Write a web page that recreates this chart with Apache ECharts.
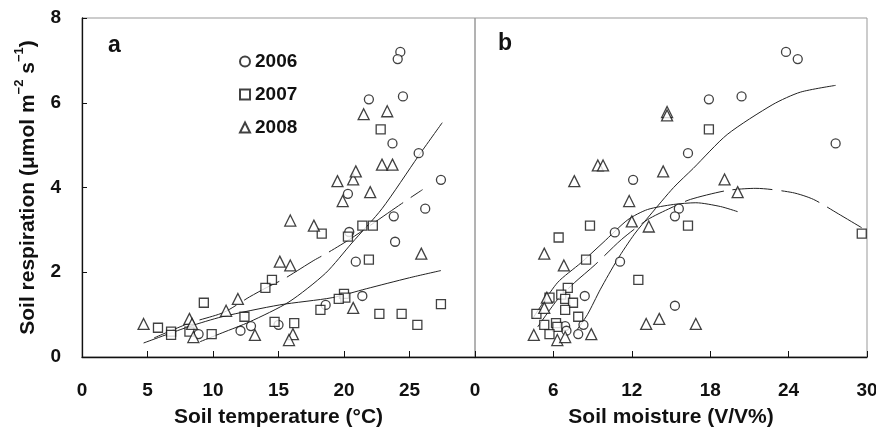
<!DOCTYPE html>
<html>
<head>
<meta charset="utf-8">
<script src="https://cdn.jsdelivr.net/npm/echarts@6/dist/echarts.min.js"></script>
<style>
  html, body { margin: 0; padding: 0; background: #fff; }
  #main { width: 876px; height: 429px; }
</style>
</head>
<body>
<div id="main"></div>
<script>
// soil temperature panel (a)
var temp2006 = [[24.3,7.2],[24.1,7.03],[24.5,6.15],[21.9,6.08],[23.7,5.04],[25.7,4.81],[27.4,4.18],[20.3,3.85],
    [26.2,3.5],[23.8,3.32],[20.4,2.95],[23.9,2.72],[20.9,2.25],[21.4,1.44],[18.6,1.23],[15.0,0.76],[12.9,0.73],
    [12.1,0.62],[8.9,0.54]];
var temp2007 = [[22.8,5.37],[21.4,3.1],[22.2,3.1],[18.3,2.91],[20.3,2.84],[21.9,2.3],[14.5,1.82],[14.0,1.63],
    [9.3,1.28],[20.0,1.49],[20.1,1.4],[19.6,1.37],[18.2,1.11],[27.4,1.25],[22.7,1.02],[24.4,1.02],[25.6,0.76],
    [16.2,0.8],[14.7,0.83],[12.4,0.95],[9.9,0.54],[5.8,0.69],[6.8,0.6],[6.8,0.52],[8.2,0.6]];
var temp2008 = [[21.5,5.73],[23.3,5.8],[19.5,4.15],[20.7,4.19],[20.9,4.38],[22.0,3.89],[19.9,3.68],[22.9,4.54],
    [23.7,4.54],[15.9,3.22],[17.7,3.1],[15.1,2.25],[15.9,2.16],[25.9,2.44],[11.9,1.37],[11.0,1.09],[20.7,1.16],
    [4.7,0.78],[8.2,0.9],[8.4,0.78],[8.5,0.47],[13.2,0.52],[16.1,0.54],[15.8,0.4]];
// fitted curves
var tempCurveSteep = [[9.0,0.36],[10.7,0.57],[12.8,0.83],[15.8,1.3],[18.6,1.98],[20.6,2.69],[22.9,3.5],[25.7,4.75],[27.5,5.53]];
var tempCurveFlat = [[4.7,0.33],[8.2,0.72],[10.7,0.95],[15.1,1.23],[19.1,1.4],[21.7,1.61],[25.0,1.87],[27.4,2.04]];
var tempCurveDash = [[5.5,0.45],[8.2,0.8],[10.8,1.05],[12.8,1.42],[14.1,1.64],[15.4,1.84],[17.7,2.28],
    [18.7,2.45],[20.6,2.81],[24.4,3.62],[26.0,3.95]];

// soil moisture panel (b)
var moist2006 = [[23.8,7.2],[24.7,7.03],[17.9,6.08],[20.4,6.15],[27.6,5.04],[16.3,4.81],[12.1,4.18],[15.6,3.5],
    [15.3,3.32],[10.7,2.94],[11.1,2.25],[15.3,1.21],[8.4,1.44],[8.3,0.76],[7.9,0.54],[6.9,0.73],[7.0,0.62]];
var moist2007 = [[17.9,5.37],[8.8,3.1],[16.3,3.1],[6.4,2.82],[8.5,2.3],[12.5,1.82],[29.6,2.91],[7.1,1.63],
    [5.7,1.4],[6.6,1.47],[6.9,1.37],[7.5,1.28],[4.7,1.02],[6.9,1.11],[7.9,0.95],[5.3,0.76],[6.2,0.8],[6.3,0.71],[5.7,0.54]];
var moist2008 = [[14.7,5.78],[14.7,5.7],[9.4,4.52],[9.8,4.52],[7.6,4.15],[14.4,4.38],[19.1,4.19],[20.1,3.89],
    [11.8,3.68],[12.0,3.2],[13.3,3.08],[5.3,2.44],[6.8,2.16],[5.5,1.4],[5.3,1.16],[13.1,0.78],[14.1,0.9],
    [16.9,0.78],[4.5,0.52],[8.9,0.54],[6.3,0.4],[6.9,0.47]];
var moistCurveRise = [[7.6,0.55],[8.6,1.0],[9.6,1.6],[10.9,2.3],[12.2,2.9],[13.4,3.35],[15.2,4.0],[16.7,4.45],
    [19.3,5.25],[22.8,5.96],[24.9,6.25],[27.6,6.41]];
var moistCurvePeak = [[4.4,0.9],[6.3,1.75],[8.1,2.22],[9.8,2.7],[11.7,3.24],[13.2,3.48],[15.2,3.6],[16.9,3.64],
    [18.8,3.55],[20.1,3.43]];
var moistCurveDash = [[4.8,0.71],[6.3,1.35],[7.6,1.75],[9.2,2.18],[11.2,2.77],[13.2,3.24],[15.0,3.52],
    [16.5,3.72],[19.3,3.93],[21.5,3.98],[24.3,3.88],[25.9,3.72],[27.8,3.38],[29.6,3.05]];

var tempTicks = [0, 5, 10, 15, 20, 25, 30];
var moistTicks = [0, 6, 12, 18, 24, 30];
var years = ['2006', '2007', '2008'];

var myChart = echarts.init(document.getElementById('main'));

var FONT = 'Liberation Sans, Arial, sans-serif';
var markerStyle = { color: '#fff', borderColor: '#111', borderWidth: 1.3 };

function scatter(name, data, symbol, size, idx) {
    return {
        name: name, type: 'scatter', xAxisIndex: idx, yAxisIndex: idx,
        symbol: symbol, symbolSize: size, data: data,
        itemStyle: markerStyle, z: 3
    };
}
function curve(data, idx, dashed) {
    return {
        type: 'line', xAxisIndex: idx, yAxisIndex: idx, data: data,
        smooth: 0.25, showSymbol: false, symbol: 'none', silent: true,
        lineStyle: { color: '#222', width: 1, type: dashed ? [40, 9] : 'solid' }, z: 2
    };
}

var option = {
    animation: false,
    textStyle: { fontFamily: FONT },
    grid: [
        { left: 82, right: 401, top: 18, bottom: 72, outerBoundsMode: 'none', show: true, borderColor: '#999', borderWidth: 1 },
        { left: 475, right: 9, top: 18, bottom: 72, outerBoundsMode: 'none', show: true, borderColor: '#999', borderWidth: 1 }
    ],
    legend: {
        data: years, orient: 'vertical', left: 234, top: 47, itemGap: 14,
        itemWidth: 10, itemHeight: 10,
        textStyle: { fontSize: 19, fontWeight: 'bold', color: '#111', fontFamily: FONT }
    },
    xAxis: [
        {
            gridIndex: 0, type: 'value', min: 0, max: 30, interval: 5,
            name: 'Soil temperature (°C)', nameLocation: 'middle', nameGap: 50,
            nameTextStyle: { fontSize: 21, fontWeight: 'bold', color: '#111' },
            axisLine: { lineStyle: { color: '#111', width: 1.3 } },
            axisTick: { inside: true, length: 6, lineStyle: { color: '#111' } },
            axisLabel: {
                margin: 24, fontSize: 19, fontWeight: 'bold', color: '#111', showMaxLabel: false,
                formatter: function (v) { return tempTicks.indexOf(v) >= 0 ? String(v) : ''; }
            },
            splitLine: { show: false }
        },
        {
            gridIndex: 1, type: 'value', min: 0, max: 30, interval: 6,
            name: 'Soil moisture (V/V%)', nameLocation: 'middle', nameGap: 50,
            nameTextStyle: { fontSize: 21, fontWeight: 'bold', color: '#111' },
            axisLine: { lineStyle: { color: '#111', width: 1.3 } },
            axisTick: { inside: true, length: 6, lineStyle: { color: '#111' } },
            axisLabel: {
                margin: 24, fontSize: 19, fontWeight: 'bold', color: '#111',
                formatter: function (v) { return moistTicks.indexOf(v) >= 0 ? String(v) : ''; }
            },
            splitLine: { show: false }
        }
    ],
    yAxis: [
        {
            gridIndex: 0, type: 'value', min: 0, max: 8, interval: 2,
            name: '{a|Soil respiration (μmol m}{s|−2}{a| s}{s|−1}{a|)}',
            nameLocation: 'middle', nameGap: 43,
            nameTextStyle: {
                rich: {
                    a: { fontSize: 21, fontWeight: 'bold', color: '#111', fontFamily: FONT, lineHeight: 26, verticalAlign: 'bottom' },
                    s: { fontSize: 13, fontWeight: 'bold', color: '#111', fontFamily: FONT, lineHeight: 26, verticalAlign: 'top' }
                }
            },
            axisLine: { lineStyle: { color: '#111', width: 1.3 } },
            axisTick: { inside: true, length: 5, lineStyle: { color: '#111' } },
            axisLabel: { margin: 21, fontSize: 19, fontWeight: 'bold', color: '#111' },
            splitLine: { show: false }
        },
        {
            gridIndex: 1, type: 'value', min: 0, max: 8, interval: 2,
            axisLine: { show: false }, axisTick: { show: false }, axisLabel: { show: false },
            splitLine: { show: false }
        }
    ],
    graphic: [
        { type: 'text', left: 108, top: 34, style: { text: 'a', font: 'bold 23px ' + FONT, fill: '#111' } },
        { type: 'text', left: 498, top: 32, style: { text: 'b', font: 'bold 23px ' + FONT, fill: '#111' } }
    ],
    series: [
        curve(tempCurveSteep, 0, false),
        curve(tempCurveFlat, 0, false),
        curve(tempCurveDash, 0, true),
        curve(moistCurveRise, 1, false),
        curve(moistCurvePeak, 1, false),
        curve(moistCurveDash, 1, true),
        scatter('2006', temp2006, 'circle', 9, 0),
        scatter('2007', temp2007, 'rect', 9, 0),
        scatter('2008', temp2008, 'triangle', 11, 0),
        scatter('2006', moist2006, 'circle', 9, 1),
        scatter('2007', moist2007, 'rect', 9, 1),
        scatter('2008', moist2008, 'triangle', 11, 1)
    ]
};

myChart.setOption(option);

window.onresize = function () {
    myChart.resize();
};
</script>
</body>
</html>
